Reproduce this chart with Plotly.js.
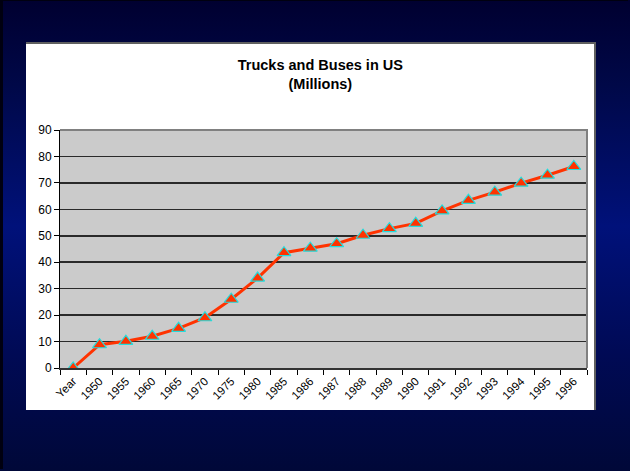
<!DOCTYPE html>
<html>
<head>
<meta charset="utf-8">
<script src="https://cdn.plot.ly/plotly-3.0.1.min.js"></script>
<style>
  html, body { margin: 0; padding: 0; }
  body {
    width: 630px; height: 471px; overflow: hidden; position: relative;
    background: linear-gradient(to bottom, #000030 0%, #000848 18%, #00117a 48%, #000a55 75%, #000838 100%);
  }
  #frame { position: absolute; left: 0; top: 0; width: 628px; height: 469px; border-left: 3px solid #000010; border-top: 1px solid #000010; box-sizing: border-box; }
  #panel {
    position: absolute; left: 26px; top: 42px; width: 570px; height: 368px;
    background: #ffffff; box-sizing: border-box;
    border-top: 2px solid #606060; border-right: 2px solid #606060;
  }
  #chart { position: absolute; left: 0; top: 0; width: 630px; height: 471px; }
</style>
</head>
<body>
<div id="frame"></div>
<div id="panel"></div>
<div id="chart"></div>
<script>
const categories = ["Year","1950","1955","1960","1965","1970","1975","1980","1985","1986","1987","1988","1989","1990","1991","1992","1993","1994","1995","1996"];
const vehicles = [0, 8.8, 10.1, 12.0, 15.0, 19.0, 26.0, 34.0, 43.6, 45.3, 47.0, 50.2, 52.7, 54.7, 59.4, 63.4, 66.5, 69.9, 72.9, 76.2];
const yTicks = [0,10,20,30,40,50,60,70,80,90];
const titleLines = ["Trucks and Buses in US", "(Millions)"];

const trace = {
  x: categories,
  y: vehicles,
  type: "scatter",
  mode: "lines+markers",
  line: { color: "#ff3300", width: 3 },
  marker: { symbol: "triangle-up", size: 12, color: "#ff3300", line: { color: "#22dddd", width: 1.2 } },
  hoverinfo: "x+y"
};

const layout = {
  width: 630, height: 471,
  margin: { l: 60, r: 43, t: 130, b: 103, pad: 0 },
  paper_bgcolor: "rgba(0,0,0,0)",
  plot_bgcolor: "#cbcbcb",
  showlegend: false,
  font: { family: "Liberation Sans, Arial, sans-serif", size: 12, color: "#000000" },
  title: {
    text: "<b>" + titleLines[0] + "</b><br><b>" + titleLines[1] + "</b>",
    font: { family: "Liberation Sans, Arial, sans-serif", size: 14.5, color: "#000000" },
    x: 0.494, xanchor: "center", xref: "paper",
    y: 0.852, yanchor: "middle"
  },
  xaxis: {
    type: "category",
    range: [-0.5, categories.length - 0.5],
    tickangle: -45,
    tickson: "boundaries",
    ticks: "outside", ticklen: 5, tickcolor: "#000000", tickwidth: 1,
    showline: true, linecolor: "#333333", linewidth: 2,
    showgrid: false, zeroline: false,
    tickfont: { family: "Liberation Sans, Arial, sans-serif", size: 11.5, color: "#000000" },
    automargin: false
  },
  yaxis: {
    range: [0, 90],
    tickvals: yTicks,
    ticktext: yTicks.map(String),
    ticks: "outside", ticklen: 5, tickcolor: "#000000", tickwidth: 1,
    showline: true, linecolor: "#000000", linewidth: 1,
    showgrid: true, gridcolor: "#2a2a2a", gridwidth: 1.5,
    zeroline: false,
    tickfont: { family: "Liberation Sans, Arial, sans-serif", size: 12, color: "#000000" },
    automargin: false
  },
  shapes: [
    { type: "path", xref: "paper", yref: "paper", path: "M 0 1 L 1 1 L 1 0", line: { color: "#808080", width: 2 }, layer: "above" }
  ]
};

Plotly.newPlot("chart", [trace], layout, { staticPlot: true, displayModeBar: false });
</script>
</body>
</html>
